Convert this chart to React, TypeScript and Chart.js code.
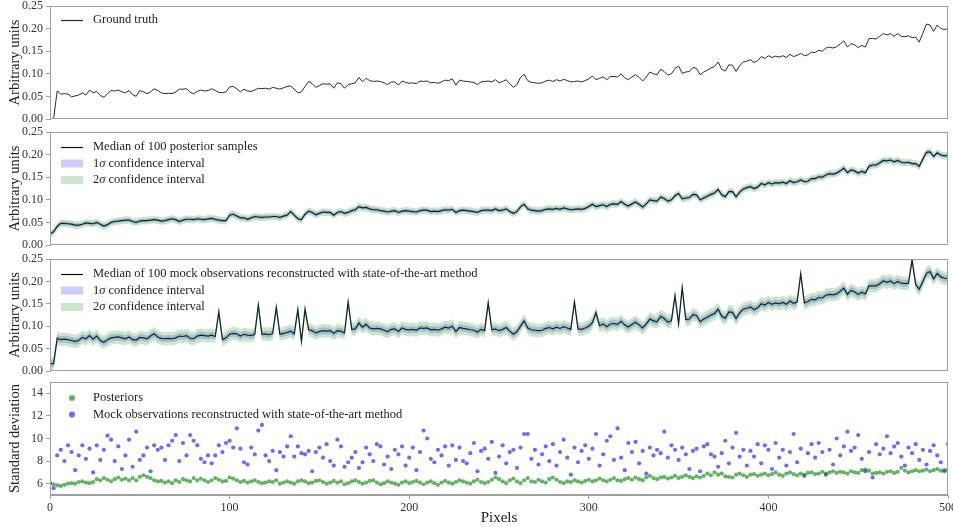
import React, { useEffect, useRef } from "react";
import { Chart, registerables } from "chart.js";
Chart.register(...registerables);

const FONT = "'Liberation Serif', 'Times New Roman', serif";

// Sampling step along the pixel axis (every 2nd pixel is drawn)
const PIXEL_STEP = 2;

const groundTruth = [
  0, 0, 0.062, 0.055, 0.056, 0.055, 0.049, 0.051, 0.053, 0.058,
  0.053, 0.064, 0.058, 0.061, 0.052, 0.048, 0.056, 0.063, 0.062, 0.064,
  0.06, 0.058, 0.063, 0.054, 0.05, 0.063, 0.06, 0.056, 0.06, 0.067,
  0.063, 0.058, 0.056, 0.057, 0.056, 0.06, 0.066, 0.066, 0.067, 0.059,
  0.056, 0.061, 0.064, 0.062, 0.063, 0.067, 0.063, 0.059, 0.058, 0.06,
  0.071, 0.072, 0.067, 0.06, 0.066, 0.062, 0.061, 0.064, 0.068, 0.067,
  0.068, 0.066, 0.07, 0.068, 0.066, 0.069, 0.072, 0.073, 0.066, 0.058,
  0.06, 0.072, 0.083, 0.078, 0.07, 0.074, 0.078, 0.077, 0.078, 0.068,
  0.08, 0.078, 0.068, 0.076, 0.078, 0.08, 0.092, 0.082, 0.09, 0.085,
  0.083, 0.084, 0.083, 0.08, 0.076, 0.082, 0.082, 0.075, 0.084, 0.081,
  0.079, 0.08, 0.078, 0.084, 0.083, 0.084, 0.08, 0.081, 0.079, 0.082,
  0.086, 0.085, 0.089, 0.075, 0.086, 0.084, 0.083, 0.082, 0.081, 0.076,
  0.082, 0.083, 0.084, 0.082, 0.087, 0.08, 0.083, 0.087, 0.078, 0.07,
  0.076, 0.092, 0.099, 0.085, 0.081, 0.08, 0.079, 0.08, 0.084, 0.086,
  0.083, 0.087, 0.084, 0.088, 0.085, 0.082, 0.083, 0.084, 0.082, 0.085,
  0.089, 0.095, 0.087, 0.09, 0.093, 0.087, 0.094, 0.094, 0.093, 0.1,
  0.091, 0.087, 0.093, 0.098, 0.092, 0.084, 0.093, 0.104, 0.1, 0.098,
  0.11, 0.105, 0.097, 0.1, 0.112, 0.117, 0.101, 0.104, 0.105, 0.114,
  0.112, 0.098, 0.104, 0.108, 0.113, 0.116, 0.126, 0.11, 0.106, 0.12,
  0.119, 0.105, 0.118, 0.126, 0.128, 0.131, 0.125, 0.129, 0.138, 0.134,
  0.14, 0.136, 0.139, 0.137, 0.14, 0.136, 0.143, 0.138, 0.141, 0.145,
  0.14, 0.142, 0.148, 0.147, 0.152, 0.15, 0.157, 0.159, 0.157, 0.16,
  0.166, 0.173, 0.159, 0.167, 0.164, 0.158, 0.163, 0.159, 0.178, 0.178,
  0.177, 0.183, 0.189, 0.186, 0.189, 0.183, 0.189, 0.183, 0.182, 0.184,
  0.18, 0.181, 0.17, 0.19, 0.21, 0.208, 0.194, 0.208, 0.2, 0.198,
  0.2,
];

const posteriorMedian = [
  0.025, 0.029, 0.041, 0.048, 0.048, 0.047, 0.046, 0.044, 0.044, 0.046,
  0.049, 0.048, 0.047, 0.05, 0.046, 0.042, 0.045, 0.05, 0.052, 0.053,
  0.054, 0.055, 0.055, 0.052, 0.05, 0.053, 0.054, 0.054, 0.055, 0.056,
  0.055, 0.053, 0.054, 0.056, 0.058, 0.056, 0.052, 0.055, 0.057, 0.057,
  0.056, 0.058, 0.057, 0.056, 0.058, 0.059, 0.057, 0.055, 0.054, 0.054,
  0.066, 0.068, 0.064, 0.06, 0.06, 0.057, 0.06, 0.063, 0.062, 0.061,
  0.062, 0.062, 0.063, 0.063, 0.061, 0.064, 0.066, 0.074, 0.066, 0.058,
  0.056, 0.068, 0.075, 0.072, 0.067, 0.07, 0.073, 0.072, 0.072, 0.066,
  0.072, 0.074, 0.07, 0.072, 0.076, 0.078, 0.085, 0.082, 0.083, 0.08,
  0.078, 0.078, 0.076, 0.075, 0.073, 0.075, 0.076, 0.072, 0.075, 0.076,
  0.075, 0.074, 0.073, 0.076, 0.077, 0.077, 0.074, 0.075, 0.074, 0.076,
  0.078, 0.077, 0.079, 0.072, 0.076, 0.077, 0.076, 0.075, 0.074, 0.072,
  0.076, 0.077, 0.077, 0.076, 0.08, 0.076, 0.077, 0.08, 0.074, 0.07,
  0.074, 0.085, 0.09, 0.08, 0.077, 0.076, 0.075, 0.076, 0.079, 0.08,
  0.079, 0.081, 0.079, 0.082, 0.08, 0.078, 0.079, 0.08, 0.079, 0.081,
  0.085, 0.09, 0.085, 0.087, 0.089, 0.085, 0.09, 0.091, 0.09, 0.096,
  0.09, 0.086, 0.091, 0.095, 0.09, 0.084, 0.091, 0.1, 0.098, 0.097,
  0.106, 0.103, 0.097, 0.1, 0.109, 0.114, 0.102, 0.104, 0.105, 0.112,
  0.111, 0.1, 0.104, 0.108, 0.112, 0.115, 0.123, 0.111, 0.107, 0.118,
  0.118, 0.107, 0.117, 0.124, 0.127, 0.129, 0.125, 0.128, 0.136, 0.133,
  0.138, 0.135, 0.138, 0.137, 0.139, 0.136, 0.142, 0.138, 0.14, 0.144,
  0.14, 0.141, 0.147, 0.147, 0.151, 0.15, 0.155, 0.158, 0.157, 0.159,
  0.164, 0.17, 0.16, 0.166, 0.164, 0.159, 0.163, 0.16, 0.174, 0.177,
  0.177, 0.182, 0.187, 0.186, 0.188, 0.184, 0.187, 0.183, 0.182, 0.183,
  0.18, 0.18, 0.174, 0.19, 0.205, 0.206, 0.196, 0.204, 0.199, 0.197,
  0.198,
];

const mockMedian = [
  0.017, 0.016, 0.073, 0.07, 0.071, 0.07, 0.068, 0.066, 0.068, 0.075,
  0.072, 0.079, 0.071, 0.078, 0.068, 0.064, 0.07, 0.074, 0.075, 0.076,
  0.074, 0.072, 0.076, 0.07, 0.069, 0.075, 0.074, 0.072, 0.078, 0.083,
  0.076, 0.073, 0.072, 0.073, 0.072, 0.074, 0.078, 0.077, 0.079, 0.073,
  0.072, 0.078, 0.08, 0.079, 0.078, 0.08, 0.077, 0.132, 0.07, 0.074,
  0.082, 0.084, 0.083, 0.078, 0.082, 0.08, 0.079, 0.082, 0.147, 0.082,
  0.083, 0.081, 0.084, 0.142, 0.082, 0.084, 0.086, 0.089, 0.083, 0.137,
  0.066, 0.138, 0.092, 0.09, 0.085, 0.088, 0.09, 0.089, 0.09, 0.084,
  0.09, 0.089, 0.085, 0.154, 0.093, 0.094, 0.107, 0.098, 0.104, 0.096,
  0.094, 0.095, 0.094, 0.091, 0.088, 0.093, 0.094, 0.088, 0.096, 0.093,
  0.092, 0.093, 0.091, 0.096, 0.095, 0.096, 0.092, 0.093, 0.091, 0.094,
  0.098, 0.096, 0.1, 0.088, 0.097, 0.095, 0.094, 0.092, 0.091, 0.087,
  0.093, 0.09, 0.152, 0.092, 0.094, 0.09, 0.093, 0.097, 0.089, 0.082,
  0.088, 0.1, 0.112, 0.096, 0.092, 0.091, 0.09, 0.091, 0.095, 0.097,
  0.094, 0.098, 0.095, 0.099, 0.096, 0.093, 0.154, 0.094, 0.093, 0.096,
  0.1, 0.108, 0.13, 0.101, 0.105, 0.099, 0.105, 0.106, 0.104, 0.111,
  0.103, 0.098, 0.104, 0.109, 0.103, 0.096, 0.105, 0.116, 0.112, 0.11,
  0.122, 0.117, 0.109, 0.112, 0.168, 0.105, 0.186, 0.115, 0.116, 0.126,
  0.124, 0.11, 0.116, 0.12, 0.125, 0.128, 0.138, 0.122, 0.118, 0.132,
  0.131, 0.117, 0.13, 0.138, 0.14, 0.143, 0.137, 0.141, 0.15, 0.147,
  0.153, 0.149, 0.152, 0.15, 0.153, 0.149, 0.156, 0.151, 0.154, 0.217,
  0.152, 0.155, 0.16, 0.159, 0.164, 0.163, 0.169, 0.171, 0.17, 0.172,
  0.178, 0.185, 0.171, 0.18, 0.177, 0.171, 0.176, 0.172, 0.19, 0.19,
  0.19, 0.195, 0.201, 0.198, 0.201, 0.195, 0.2, 0.196, 0.195, 0.196,
  0.248, 0.193, 0.183, 0.2, 0.218, 0.222, 0.206, 0.218, 0.21, 0.207,
  0.206,
];

// Half-widths of the confidence bands
const posteriorSigma = 0.0042;
const mockSigma = 0.0075;

const posteriorStd = [
  6.0, 5.95, 5.85, 5.8, 5.9, 6.0, 6.05, 6.0, 6.15, 6.2,
  6.1, 6.05, 6.15, 6.4, 6.3, 6.5, 6.35, 6.2, 6.4, 6.55,
  6.35, 6.45, 6.3, 6.5, 6.3, 6.6, 6.75, 6.6, 6.5, 6.3,
  6.2, 6.25, 6.1, 6.2, 6.05, 6.3, 6.15, 6.4, 6.3, 6.2,
  6.5, 6.3, 6.45, 6.3, 6.15, 6.3, 6.5, 6.35, 6.2, 6.25,
  6.55, 6.45, 6.3, 6.15, 6.25, 6.1, 6.2, 6.3, 6.15, 6.05,
  6.1, 6.2, 6.15, 6.3, 6.0, 6.1, 6.2, 6.1, 6.0, 6.2,
  6.3, 6.2, 6.05, 6.1, 6.25, 6.3, 6.15, 6.0, 6.1, 6.25,
  6.1, 6.2, 5.95, 6.05, 6.2, 6.3, 6.15, 6.0, 6.1, 6.25,
  6.3, 6.1, 5.95, 6.05, 6.2, 6.1, 6.0, 5.9, 6.1, 6.2,
  6.05, 6.15, 6.25, 6.1, 5.95, 6.1, 6.2, 6.05, 5.9, 6.1,
  6.25, 6.1, 6.0, 6.15, 6.3, 6.2, 6.1, 6.0, 6.2, 6.35,
  6.15, 6.05, 6.15, 6.35, 6.55, 6.4, 6.2, 6.05, 6.3, 6.45,
  6.2, 6.05, 6.3, 6.5, 6.2, 6.15, 6.35, 6.2, 6.1, 6.4,
  6.55, 6.35, 6.15, 6.05, 6.2, 6.15, 6.3, 6.2, 6.1, 6.25,
  6.35, 6.2, 6.3, 6.45, 6.3, 6.2, 6.35, 6.5, 6.3, 6.25,
  6.4, 6.5, 6.35, 6.55, 6.4, 6.3, 6.55, 6.7, 6.5, 6.4,
  6.55, 6.6, 6.45, 6.55, 6.7, 6.5, 6.6, 6.75, 6.6, 6.5,
  6.65, 6.55, 6.7, 6.9, 6.75, 7.0, 6.8, 6.9, 6.65, 6.6,
  6.55, 6.8, 6.9, 6.75, 6.6, 6.8, 6.85, 6.7, 6.8, 6.9,
  6.75, 6.85, 7.0, 6.8, 6.7, 6.9, 7.0, 6.85, 6.75, 6.9,
  6.8, 6.95, 7.0, 6.85, 6.9, 7.05, 6.9, 7.0, 7.1, 6.95,
  7.05, 7.0, 6.9, 7.1, 7.0, 6.95, 7.2, 7.25, 7.15, 6.9,
  6.95, 7.0, 6.9, 7.05, 7.1, 6.95, 7.05, 7.4, 7.15, 7.0,
  7.1, 7.2, 7.1, 7.15, 7.25, 7.1, 7.2, 7.3, 7.15, 7.2,
  7.25,
];

const mockStd = [
  6.05, 5.6, 8.5, 9.0, 8.0, 9.4, 8.8, 7.2, 8.5, 9.4,
  8.2, 9.1, 7.0, 9.4, 8.1, 9.0, 10.25, 9.9, 8.0, 9.3,
  7.3, 8.5, 9.9, 7.5, 10.6, 8.1, 8.5, 9.2, 7.1, 9.4,
  9.0, 9.2, 8.1, 9.4, 9.8, 10.3, 8.0, 9.6, 8.5, 10.3,
  9.8, 9.4, 8.2, 7.9, 8.5, 7.8, 8.5, 9.4, 8.8, 9.6,
  9.8, 9.2, 10.9, 9.1, 7.9, 7.7, 9.2, 8.6, 10.7, 11.2,
  8.5, 8.0, 8.9, 7.2, 8.8, 8.4, 9.3, 10.2, 8.4, 9.3,
  8.7, 8.6, 8.9, 7.1, 8.8, 9.2, 8.3, 9.5, 8.0, 7.6,
  9.9, 9.3, 7.5, 7.9, 8.3, 8.8, 7.4, 7.9, 9.2, 8.6,
  8.0, 9.5, 9.3, 7.7, 8.4, 7.3, 9.0, 8.6, 9.3, 7.6,
  8.3, 9.2, 7.2, 8.8, 10.7, 10.0, 8.2, 7.9, 9.0, 8.5,
  9.3, 7.6, 9.4, 8.1, 9.2, 8.0, 7.8, 8.7, 9.6, 7.1,
  8.9, 9.1, 8.2, 9.7, 6.95, 8.4, 9.4, 7.8, 8.8, 9.0,
  7.4, 9.2, 10.4, 10.4, 8.2, 9.0, 7.7, 8.6, 9.3, 8.0,
  9.5, 7.6, 8.8, 9.9, 8.3, 6.8, 9.2, 7.9, 8.9, 9.4,
  8.2, 9.1, 10.4, 7.6, 8.6, 9.8, 10.2, 8.1, 10.9, 8.3,
  7.2, 9.6, 8.8, 9.7, 7.8, 8.9, 6.9, 9.2, 8.5, 9.0,
  8.7, 10.6, 8.3, 9.4, 9.0, 8.1, 9.2, 8.6, 7.3, 8.9,
  9.1, 7.1, 9.3, 9.5, 8.6, 8.4, 7.5, 8.7, 9.8, 7.8,
  9.2, 10.5, 8.4, 9.0, 7.6, 8.9, 8.4, 9.5, 7.8, 9.4,
  9.0, 7.3, 9.6, 8.3, 9.0, 7.6, 8.8, 10.4, 7.9, 9.1,
  6.7, 8.7, 9.5, 8.3, 9.6, 8.8, 6.8, 9.0, 7.7, 10.0,
  8.5, 9.3, 10.6, 8.9, 9.2, 10.3, 8.2, 7.1, 8.8, 6.55,
  9.5, 8.6, 9.1, 10.2, 8.7, 9.3, 9.6, 8.4, 7.6, 9.2,
  8.7, 9.5, 8.1, 9.0, 7.7, 8.9, 9.4, 8.5, 7.9, 7.1,
  9.5,
];

const xTicks = [0, 100, 200, 300, 400, 500];
const arbTicks = [0, 0.05, 0.1, 0.15, 0.2, 0.25];
const stdTicks = [6, 8, 10, 12, 14];

const C_FRAME = "#a0a0a0";
const C_TEXT = "#333333";
const BLUE_FILL = "rgba(0,0,255,0.2)";
const GREEN_FILL = "rgba(0,128,0,0.2)";
const GREEN_DOT = "rgba(0,128,0,0.6)";
const BLUE_DOT = "rgba(0,0,255,0.58)";

const toPoints = (vals: number[], off = 0) =>
  vals.map((v, i) => ({ x: i * PIXEL_STEP, y: v + off }));

const framePlugin = {
  id: "frame",
  afterDatasetsDraw(chart: any) {
    const { ctx, chartArea: a } = chart;
    ctx.save();
    ctx.strokeStyle = C_FRAME;
    ctx.lineWidth = 1;
    ctx.strokeRect(Math.round(a.left) + 0.5, Math.round(a.top) + 0.5, Math.round(a.right - a.left) - 1, Math.round(a.bottom - a.top) - 1);
    ctx.restore();
  },
};

type Seg = { t: string; italic?: boolean };
type LegendItem = { kind: "line" | "patch" | "dot"; color: string; text: Seg[] };

const makeLegend = (items: LegendItem[], firstY: number, spacing: number) => ({
  id: "customLegend",
  afterDraw(chart: any) {
    const { ctx, chartArea: a } = chart;
    ctx.save();
    items.forEach((it, i) => {
      const y = a.top + firstY + i * spacing;
      const x0 = a.left + 11;
      if (it.kind === "line") {
        ctx.strokeStyle = it.color;
        ctx.lineWidth = 1.2;
        ctx.beginPath();
        ctx.moveTo(x0, y + 0.5);
        ctx.lineTo(x0 + 22, y + 0.5);
        ctx.stroke();
      } else if (it.kind === "patch") {
        ctx.fillStyle = it.color;
        ctx.fillRect(x0, y - 4, 22, 8);
      } else {
        ctx.fillStyle = it.color;
        ctx.beginPath();
        ctx.arc(a.left + 22, y, 3, 0, Math.PI * 2);
        ctx.fill();
      }
      let tx = a.left + 43;
      ctx.fillStyle = "#222";
      ctx.textBaseline = "middle";
      ctx.textAlign = "left";
      for (const s of it.text) {
        ctx.font = `${s.italic ? "italic " : ""}12.5px ${FONT}`;
        ctx.fillText(s.t, tx, y);
        tx += ctx.measureText(s.t).width;
      }
    });
    ctx.restore();
  },
});

function baseOptions(cfg: {
  yMin: number; yMax: number; yTicks: number[]; fmt: (v: number) => string;
  title: string; padTop: number; padBottom: number; showX: boolean;
}) {
  return {
    animation: false,
    responsive: false,
    maintainAspectRatio: false,
    events: [],
    layout: { padding: { top: cfg.padTop, bottom: cfg.padBottom, left: 0, right: 5 } },
    plugins: { legend: { display: false }, tooltip: { enabled: false } },
    scales: {
      x: {
        type: "linear",
        min: 0,
        max: 500,
        display: cfg.showX,
        afterBuildTicks: (s: any) => { s.ticks = xTicks.map((v) => ({ value: v })); },
        afterFit: (s: any) => {
          if (cfg.showX) { s.height = 32; } else { s.height = 0; }
          s.paddingLeft = 0; s.paddingRight = 0;
        },
        ticks: { font: { family: FONT, size: 12 }, color: C_TEXT, padding: 2, maxRotation: 0, autoSkip: false },
        grid: { drawOnChartArea: false, drawTicks: true, tickLength: 4, color: C_FRAME },
        border: { display: true, color: C_FRAME },
        title: { display: true, text: "Pixels", font: { family: FONT, size: 15 }, color: "#222", padding: { top: 0, bottom: 0 } },
      },
      y: {
        type: "linear",
        min: cfg.yMin,
        max: cfg.yMax,
        afterBuildTicks: (s: any) => { s.ticks = cfg.yTicks.map((v) => ({ value: v })); },
        afterFit: (s: any) => { s.width = 50; s.paddingTop = 0; s.paddingBottom = 0; },
        ticks: { callback: (v: any) => cfg.fmt(Number(v)), font: { family: FONT, size: 12 }, color: C_TEXT, padding: 3, autoSkip: false },
        grid: { drawOnChartArea: false, drawTicks: true, tickLength: 4, color: C_FRAME },
        border: { display: true, color: C_FRAME },
        title: { display: true, text: cfg.title, font: { family: FONT, size: 14.5 }, color: "#222", padding: { top: 6, bottom: 2 } },
      },
    },
  };
}

const fmt2 = (v: number) => v.toFixed(2);
const fmt0 = (v: number) => v.toFixed(0);

function bandDatasets(median: number[], sigma: number) {
  const band = (k: number, color: string) => [
    { data: toPoints(median, -k * sigma), borderWidth: 0, pointRadius: 0, fill: false, backgroundColor: "transparent", borderColor: "transparent" },
    { data: toPoints(median, k * sigma), borderWidth: 0, pointRadius: 0, fill: "-1", backgroundColor: color, borderColor: "transparent" },
  ];
  return [...band(2, GREEN_FILL), ...band(1, BLUE_FILL)];
}

const sigmaText = (n: string): Seg[] => [{ t: n }, { t: "σ", italic: true }, { t: " confidence interval" }];

function buildTruth() {
  return {
    type: "line",
    data: { datasets: [{ data: toPoints(groundTruth), borderColor: "#2a2a2a", borderWidth: 1, pointRadius: 0, fill: false, tension: 0 }] },
    options: baseOptions({ yMin: 0, yMax: 0.25, yTicks: arbTicks, fmt: fmt2, title: "Arbitrary units", padTop: 6, padBottom: 7, showX: false }),
    plugins: [framePlugin, makeLegend([{ kind: "line", color: "#2a2a2a", text: [{ t: "Ground truth" }] }], 14, 16.5)],
  };
}

function buildBand(median: number[], sigma: number, label: string, padTop: number, padBottom: number) {
  return {
    type: "line",
    data: {
      datasets: [
        ...bandDatasets(median, sigma),
        { data: toPoints(median), borderColor: "#111", borderWidth: 1.2, pointRadius: 0, fill: false, tension: 0 },
      ],
    },
    options: baseOptions({ yMin: 0, yMax: 0.25, yTicks: arbTicks, fmt: fmt2, title: "Arbitrary units", padTop, padBottom, showX: false }),
    plugins: [
      framePlugin,
      makeLegend(
        [
          { kind: "line", color: "#111", text: [{ t: label }] },
          { kind: "patch", color: BLUE_FILL, text: sigmaText("1") },
          { kind: "patch", color: GREEN_FILL, text: sigmaText("2") },
        ],
        15, 16.5,
      ),
    ],
  };
}

function buildStd() {
  return {
    type: "scatter",
    data: {
      datasets: [
        { data: toPoints(posteriorStd), backgroundColor: GREEN_DOT, borderWidth: 0, pointRadius: 2.1 },
        { data: toPoints(mockStd), backgroundColor: BLUE_DOT, borderWidth: 0, pointRadius: 2.1 },
      ],
    },
    options: baseOptions({ yMin: 5, yMax: 15, yTicks: stdTicks, fmt: fmt0, title: "Standard deviation", padTop: 5, padBottom: 0, showX: true }),
    plugins: [
      framePlugin,
      makeLegend(
        [
          { kind: "dot", color: GREEN_DOT, text: [{ t: "Posteriors" }] },
          { kind: "dot", color: BLUE_DOT, text: [{ t: "Mock observations reconstructed with state-of-the-art method" }] },
        ],
        16, 16.5,
      ),
    ],
  };
}

function Panel({ top, height, build }: { top: number; height: number; build: () => any }) {
  const ref = useRef<HTMLCanvasElement>(null);
  useEffect(() => {
    const chart = new Chart(ref.current as HTMLCanvasElement, build());
    return () => chart.destroy();
  }, []);
  return (
    <canvas
      ref={ref}
      width={953}
      height={height}
      style={{ position: "absolute", left: 0, top, width: 953, height }}
    />
  );
}

export default function App() {
  return (
    <div style={{ position: "absolute", left: 0, top: 0, width: 953, height: 527, background: "#fff", overflow: "hidden" }}>
      <Panel top={0} height={126} build={buildTruth} />
      <Panel top={126} height={126} build={() => buildBand(posteriorMedian, posteriorSigma, "Median of 100 posterior samples", 6, 7)} />
      <Panel top={252} height={125} build={() => buildBand(mockMedian, mockSigma, "Median of 100 mock observations reconstructed with state-of-the-art method", 7, 6)} />
      <Panel top={377} height={150} build={buildStd} />
    </div>
  );
}
